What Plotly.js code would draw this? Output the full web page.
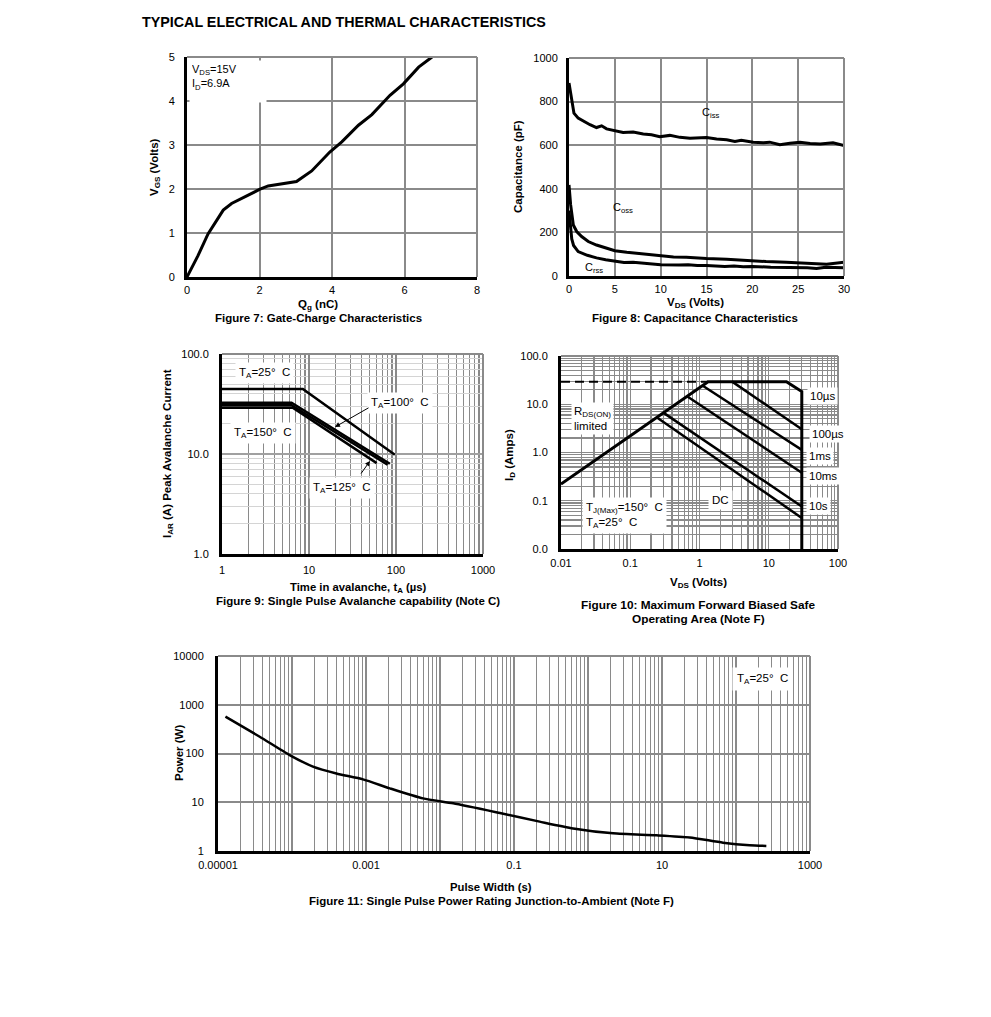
<!DOCTYPE html>
<html>
<head>
<meta charset="utf-8">
<script src="https://cdn.plot.ly/plotly-3.0.1.min.js"></script>
<style>html,body{margin:0;padding:0;background:#fff;}#chart{width:991px;height:1017px;}</style>
</head>
<body>
<div id="chart"></div>
<script>
// ---------- Figure 7: Gate charge ----------
const gateChargeQg  = [0, 0.3, 0.58, 0.8, 1.0, 1.23, 1.6, 2.0, 2.24, 2.65, 3.02, 3.44, 3.94, 4.27, 4.73, 5.1, 5.6, 5.97, 6.39, 6.76];
const gateChargeVgs = [0, 0.48, 0.98, 1.28, 1.52, 1.67, 1.83, 1.99, 2.07, 2.12, 2.17, 2.41, 2.84, 3.07, 3.45, 3.69, 4.13, 4.39, 4.77, 5.0];
const fig7XTicks = [0, 2, 4, 6, 8];
const fig7YTicks = [0, 1, 2, 3, 4, 5];

// ---------- Figure 8: Capacitance ----------
const vdsCiss = [0, 0.29, 0.54, 1.0, 1.74, 2.29, 3.0, 3.56, 4.1, 5.0, 5.9, 7.0, 8.1, 9.0, 9.9, 11.0, 12.1, 13.2, 15.0, 16.1, 17.2, 18.1, 18.8, 20.1, 21.2, 21.9, 23.0, 24.1, 25.2, 26.3, 27.4, 28.8, 30];
const ciss    = [885, 801, 747, 724, 706, 694, 681, 689, 675, 666, 658, 660, 651, 648, 639, 645, 636, 632, 635, 628, 625, 617, 623, 614, 611, 614, 602, 609, 614, 608, 606, 611, 599];
const vdsCoss = [0, 0.18, 0.47, 0.84, 1.38, 2.1, 3.0, 4.1, 5.0, 6.3, 7.4, 8.8, 9.9, 11.4, 12.8, 14.3, 15.0, 17.2, 19.4, 21.5, 23.7, 25.9, 28.1, 30];
const coss    = [418, 326, 234, 204, 181, 158, 142, 127, 116, 109, 104, 96, 92, 87, 86, 81, 80, 77, 70, 66, 63, 60, 54, 63];
const vdsCrss = [0, 0.15, 0.3, 0.5, 1.0, 2.0, 3.0, 4.0, 5.0, 6.0, 7.0, 8.0, 9.0, 10.0, 12.0, 13.0, 14.0, 15.0, 17.0, 18.0, 19.0, 20.0, 22.0, 24.0, 26.0, 27.0, 28.0, 30.0];
const crss    = [300, 220, 170, 140, 112, 95, 83, 75, 70, 62, 63, 60, 58, 52, 50, 52, 48, 48, 44, 46, 42, 44, 40, 40, 38, 34, 40, 38];
const fig8XTicks = [0, 5, 10, 15, 20, 25, 30];
const fig8YTicks = [0, 200, 400, 600, 800, 1000];

// ---------- Figure 9: Avalanche ----------
const avTime25  = [1, 8.5, 97];  const avCur25  = [44.7, 44.7, 9.85];
const avTime100 = [1, 6.3, 85];  const avCur100 = [32.5, 32.5, 8.0];
const avTime125 = [1, 6.3, 80];  const avCur125 = [30.8, 30.8, 7.8];
const avTime150 = [1, 6.5, 60];  const avCur150 = [29, 29, 8.1];
const fig9XTickVals = [1, 10, 100, 1000];
const fig9XTickText = ['1', '10', '100', '1000'];
const fig9YTickVals = [1, 10, 100];
const fig9YTickText = ['1.0', '10.0', '100.0'];

// ---------- Figure 10: SOA ----------
const soaEnvV = [0.01, 1.33, 18, 30, 30];
const soaEnvI = [0.221, 29.4, 29.4, 18.3, 0.01];
const soaDashV = [0.01, 1.33];
const soaDashI = [29.4, 29.4];
const soa10usV = [2.96, 30];  const soa10usI = [29.4, 3.04];
const soa100usV = [1.1, 30];  const soa100usI = [24.4, 1.135];
const soa1msV = [0.66, 30];   const soa1msI = [14.6, 0.38];
const soa10msV = [0.3, 30];   const soa10msI = [6.7, 0.076];
const soaDCV = [0.24, 30];    const soaDCI = [5.4, 0.044];
const fig10XTickVals = [0.01, 0.1, 1, 10, 100];
const fig10XTickText = ['0.01', '0.1', '1', '10', '100'];
const fig10YTickVals = [0.01, 0.1, 1, 10, 100];
const fig10YTickText = ['0.0', '0.1', '1.0', '10.0', '100.0'];

// ---------- Figure 11: Single pulse power ----------
const pulseWidth = [1.26e-5, 3.66e-5, 9.3e-5, 1.92e-4, 3.98e-4, 9.1e-4, 2.1e-3, 5.9e-3, 0.0151, 0.0646, 0.222, 0.63, 2.18, 8.4, 23.7, 66.7, 153, 257];
const peakPower  = [570, 221, 93, 54, 39, 29.5, 19.3, 12, 9.5, 6.0, 4.0, 2.9, 2.3, 2.1, 1.9, 1.48, 1.31, 1.27];
const fig11XTickVals = [1e-5, 1e-3, 0.1, 10, 1000];
const fig11XTickText = ['0.00001', '0.001', '0.1', '10', '1000'];
const fig11YTickVals = [1, 10, 100, 1000, 10000];
const fig11YTickText = ['1', '10', '100', '1000', '10000'];

// ---------- helpers ----------
const W = 991, H = 1017;
const FONT = 'Liberation Sans, Arial, Helvetica, sans-serif';
const px = p => p / W;
const py = p => 1 - p / H;
function digits(lo, hi) { // 1..9 per decade, for grid lines
  const out = [];
  for (let e = lo; e < hi; e++) for (let d = 1; d <= 9; d++) out.push(d * Math.pow(10, e));
  out.push(Math.pow(10, hi));
  return out;
}
const GRID = '#8a8a8a';
const TICKFONT = {family: FONT, size: 11, color: '#000'};
function linAxis(domain, range, tickvals, extra) {
  return Object.assign({
    domain: domain, range: range, tickmode: 'array', tickvals: tickvals,
    showgrid: true, gridcolor: GRID, gridwidth: 2, zeroline: false,
    showline: true, linecolor: '#000', linewidth: 3,
    ticks: 'outside', ticklen: 6, tickcolor: 'rgba(0,0,0,0)',
    tickfont: TICKFONT, fixedrange: true
  }, extra || {});
}
function logAxis(domain, range, tickvals, ticktext, minorvals, extra) {
  return Object.assign({
    type: 'log', domain: domain, range: range, tickmode: 'array', tickvals: tickvals, ticktext: ticktext,
    showgrid: true, gridcolor: GRID, gridwidth: 1.5, zeroline: false,
    showline: true, linecolor: '#000', linewidth: 3,
    ticks: 'outside', ticklen: 8, tickcolor: 'rgba(0,0,0,0)',
    minor: {tickmode: 'array', tickvals: minorvals, showgrid: true, gridcolor: GRID, gridwidth: 1.2, ticks: ''},
    tickfont: TICKFONT, fixedrange: true
  }, extra || {});
}
function line(x, y, xa, ya, w, extra) {
  return Object.assign({x: x, y: y, xaxis: xa, yaxis: ya, type: 'scatter', mode: 'lines',
    line: {color: '#000', width: w || 3}, hoverinfo: 'skip', showlegend: false}, extra || {});
}
function txt(text, x, y, o) {
  return Object.assign({xref: 'paper', yref: 'paper', x: px(x), y: py(y), text: text, showarrow: false,
    font: {family: FONT, size: 11.5, color: '#000'}, xanchor: 'center', yanchor: 'middle'}, o || {});
}
function bold(text, x, y, size, o) {
  return txt('<b>' + text + '</b>', x, y, Object.assign({font: {family: FONT, size: size || 11.5, color: '#000'}}, o || {}));
}
function border(xa, ya) {
  const xr = xa + ' domain', yr = ya + ' domain';
  return [
    {type: 'line', xref: xr, yref: yr, x0: 0, x1: 1, y0: 1, y1: 1, line: {color: GRID, width: 2}},
    {type: 'line', xref: xr, yref: yr, x0: 1, x1: 1, y0: 0, y1: 1, line: {color: GRID, width: 2}}
  ];
}

const traces = [
  line(gateChargeQg, gateChargeVgs, 'x', 'y', 3),
  line(vdsCiss, ciss, 'x2', 'y2', 3),
  line(vdsCoss, coss, 'x2', 'y2', 3),
  line(vdsCrss, crss, 'x2', 'y2', 3),
  line(avTime25, avCur25, 'x3', 'y3', 2.5),
  line(avTime100, avCur100, 'x3', 'y3', 2.5),
  line(avTime125, avCur125, 'x3', 'y3', 2.5),
  line(avTime150, avCur150, 'x3', 'y3', 2.5),
  line(soaDashV, soaDashI, 'x4', 'y4', 2, {line: {color: '#000', width: 2, dash: '9px,5px'}}),
  line(soaEnvV, soaEnvI, 'x4', 'y4', 3),
  line(soa10usV, soa10usI, 'x4', 'y4', 2.5),
  line(soa100usV, soa100usI, 'x4', 'y4', 2.5),
  line(soa1msV, soa1msI, 'x4', 'y4', 2.5),
  line(soa10msV, soa10msI, 'x4', 'y4', 2.5),
  line(soaDCV, soaDCI, 'x4', 'y4', 2.5),
  line(pulseWidth, peakPower, 'x5', 'y5', 2.5, {line: {color: '#000', width: 2.5, shape: 'spline', smoothing: 0.6}})
];

const DEG = '°&nbsp; C';
const layout = {
  width: W, height: H, margin: {l: 0, r: 0, t: 0, b: 0},
  paper_bgcolor: '#fff', plot_bgcolor: '#fff', showlegend: false,
  font: {family: FONT, color: '#000'},
  xaxis:  linAxis([px(187), px(477)], [0, 8], fig7XTicks, {anchor: 'y', ticklen: 1}),
  yaxis:  linAxis([py(277), py(57)], [0, 5], fig7YTicks, {anchor: 'x', ticklen: 7}),
  xaxis2: linAxis([px(569), px(844)], [0, 30], fig8XTicks, {anchor: 'y2', ticklen: 1}),
  yaxis2: linAxis([py(276), py(58)], [0, 1000], fig8YTicks, {anchor: 'x2'}),
  xaxis3: logAxis([px(222), px(483)], [0, 3], fig9XTickVals, fig9XTickText, digits(0, 3), {anchor: 'y3', ticklen: 4}),
  yaxis3: logAxis([py(554), py(354)], [0, 2], fig9YTickVals, fig9YTickText, digits(0, 2),
          {anchor: 'x3', gridcolor: '#a0a0a0', minor: {tickmode: 'array', tickvals: digits(0, 2), showgrid: true, gridcolor: '#d4d4d4', gridwidth: 1, ticks: ''}}),
  xaxis4: logAxis([px(561), px(838)], [-2, 2], fig10XTickVals, fig10XTickText, digits(-2, 2), {anchor: 'y4', gridwidth: 1.2, ticklen: 2}),
  yaxis4: logAxis([py(549), py(356)], [-2, 2], fig10YTickVals, fig10YTickText, digits(-2, 2), {anchor: 'x4', gridwidth: 1.2}),
  xaxis5: logAxis([px(218), px(810)], [-5, 3], fig11XTickVals, fig11XTickText, digits(-5, 3), {anchor: 'y5', ticklen: 2}),
  yaxis5: logAxis([py(851), py(656)], [0, 4], fig11YTickVals, fig11YTickText, [], {anchor: 'x5', gridwidth: 2, ticklen: 9, minor: {showgrid: false}}),
  shapes: [].concat(border('x', 'y'), border('x2', 'y2'), border('x3', 'y3'), border('x4', 'y4'), border('x5', 'y5')),
  annotations: [
    bold('TYPICAL ELECTRICAL AND THERMAL CHARACTERISTICS', 140, 22, 14.3, {xanchor: 'left'}),
    // Fig 7
    txt('V<sub>DS</sub>=15V<br>I<sub>D</sub>=6.9A', 189, 60, {xanchor: 'left', yanchor: 'top', align: 'left', valign: 'top',
        width: 72, height: 37, bgcolor: '#fff', borderpad: 2, font: {family: FONT, size: 11, color: '#000'}}),
    bold('V<sub>GS</sub> (Volts)', 155, 167, 11.5, {textangle: -90}),
    bold('Q<sub>g</sub> (nC)', 318, 305, 11.5),
    bold('Figure 7: Gate-Charge Characteristics', 318, 318, 11.5),
    // Fig 8
    txt('C<sub>iss</sub>', 711, 113, {font: {family: FONT, size: 11, color: '#000'}}),
    txt('C<sub>oss</sub>', 623, 208, {font: {family: FONT, size: 11, color: '#000'}}),
    txt('C<sub>rss</sub>', 594, 268, {font: {family: FONT, size: 11, color: '#000'}}),
    bold('Capacitance (pF)', 518, 167, 11.5, {textangle: -90}),
    bold('V<sub>DS</sub> (Volts)', 695, 303, 11.5),
    bold('Figure 8: Capacitance Characteristics', 695, 318, 11.5),
    // Fig 9
    txt('T<sub>A</sub>=25' + DEG, 264, 373, {bgcolor: '#fff', borderpad: 3}),
    txt('T<sub>A</sub>=100' + DEG, 400, 403, {bgcolor: '#fff', borderpad: 3}),
    txt('T<sub>A</sub>=150' + DEG, 263, 433, {bgcolor: '#fff', borderpad: 3}),
    txt('T<sub>A</sub>=125' + DEG, 342, 488, {bgcolor: '#fff', borderpad: 3}),
    {xref: 'paper', yref: 'paper', x: px(335), y: py(427), text: '', showarrow: true, ax: 35, ay: -20,
     arrowhead: 2, arrowsize: 1, arrowwidth: 1, arrowcolor: '#000'},
    {xref: 'paper', yref: 'paper', x: px(370), y: py(461), text: '', showarrow: true, ax: -10, ay: 14,
     arrowhead: 2, arrowsize: 1, arrowwidth: 1, arrowcolor: '#000'},
    bold('I<sub>AR</sub> (A) Peak Avalanche Current', 168, 454, 11.5, {textangle: -90}),
    bold('Time in avalanche, t<sub>A</sub> (µs)', 358, 588, 11.3),
    bold('Figure 9: Single Pulse Avalanche capability (Note C)', 358, 601, 11.5),
    // Fig 10
    txt('R<sub>DS(ON)</sub><br>limited', 571, 418, {xanchor: 'left', align: 'left', bgcolor: '#fff', borderpad: 2}),
    txt('T<sub>J(Max)</sub>=150' + DEG + '<br>T<sub>A</sub>=25' + DEG, 582, 515, {xanchor: 'left', align: 'left', bgcolor: '#fff', borderpad: 3}),
    txt('DC', 720, 500, {bgcolor: '#fff', borderpad: 3}),
    txt('10µs', 807, 396, {xanchor: 'left', bgcolor: '#fff', borderpad: 2}),
    txt('100µs', 809, 434, {xanchor: 'left', bgcolor: '#fff', borderpad: 2}),
    txt('1ms', 806, 456, {xanchor: 'left', bgcolor: '#fff', borderpad: 2}),
    txt('10ms', 806, 476, {xanchor: 'left', bgcolor: '#fff', borderpad: 2}),
    txt('10s', 806, 506, {xanchor: 'left', bgcolor: '#fff', borderpad: 2}),
    bold('I<sub>D</sub> (Amps)', 510, 455, 11.5, {textangle: -90}),
    bold('V<sub>DS</sub> (Volts)', 698, 583, 11.5),
    bold('Figure 10: Maximum Forward Biased Safe', 698, 605, 11.8),
    bold('Operating Area (Note F)', 698, 619, 11.8),
    // Fig 11
    txt('T<sub>A</sub>=25' + DEG, 762, 679, {bgcolor: '#fff', borderpad: 4}),
    bold('Power (W)', 179, 753, 11.5, {textangle: -90}),
    bold('Pulse Width (s)', 491, 887, 11.3),
    bold('Figure 11: Single Pulse Power Rating Junction-to-Ambient (Note F)', 491, 901, 11.5)
  ]
};

Plotly.newPlot('chart', traces, layout, {displayModeBar: false, staticPlot: true});
</script>
</body>
</html>
